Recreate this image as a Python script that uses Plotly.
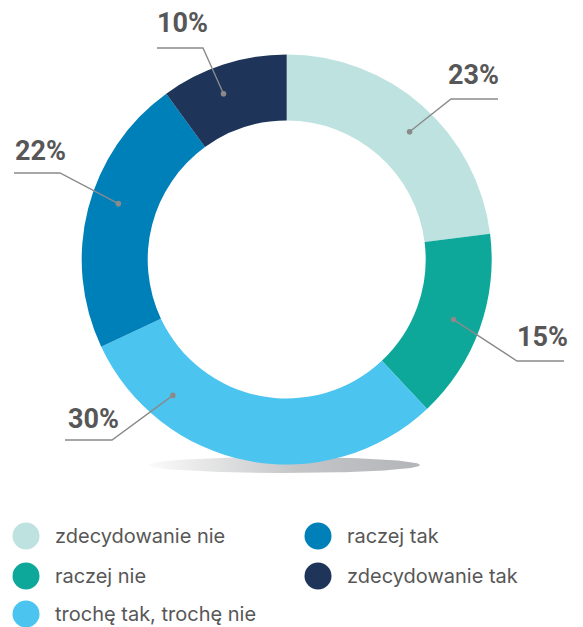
import numpy as np
import plotly.graph_objects as go

# ---- data ----
categories = ["zdecydowanie nie", "raczej nie", "trochę tak, trochę nie", "raczej tak", "zdecydowanie tak"]
shares = [23, 15, 30, 22, 10]
colors = ["#bde2e0", "#0ea89b", "#4bc4f0", "#0080b9", "#1e3459"]

# ---- canvas / donut geometry (pixels) ----
W, H = 583, 627
CX, CY, R = 286.7, 259.5, 205.0
HOLE = 0.678

# leader-line layout per slice: position inside slice (fraction of its arc),
# elbow point, end of horizontal run, label centre
callouts = [
    dict(frac=0.53, elbow=(451, 99), end=498, label=(473, 75)),
    dict(frac=0.50, elbow=(517, 361), end=564, label=(542, 337)),
    dict(frac=0.77, elbow=(112, 440), end=65, label=(93, 419)),
    dict(frac=0.55, elbow=(60, 173), end=14, label=(40, 151)),
    dict(frac=0.42, elbow=(203, 48), end=157, label=(182, 23)),
]
LINE_COLOR = "#8a8a8a"
TEXT_COLOR = "#575757"

fig = go.Figure()

# soft shadow under the ring
t = np.linspace(0, 2 * np.pi, 120)
fig.add_trace(go.Scatter(
    x=284 + 136 * np.cos(t), y=465 + 8 * np.sin(t),
    mode="lines", line=dict(width=0), fill="toself",
    fillgradient=dict(type="horizontal",
                      colorscale=[[0, "#fbfbfb"], [0.55, "#c4c5c7"], [1, "#b4b5b8"]]),
    hoverinfo="skip", showlegend=False,
))

# donut
fig.add_trace(go.Pie(
    labels=categories, values=shares, hole=HOLE, sort=False,
    direction="clockwise", rotation=0,
    marker=dict(colors=colors, line=dict(width=0)),
    textinfo="none", hoverinfo="label+percent", showlegend=False,
    domain=dict(x=[(CX - R) / W, (CX + R) / W], y=[1 - (CY + R) / H, 1 - (CY - R) / H]),
))

# leader lines, dots and percentage labels
total = sum(shares)
start = 0.0
shapes, annotations = [], []
r_mid = R * 0.865
for v, c in zip(shares, callouts):
    span = 360.0 * v / total
    ang = np.radians(start + c["frac"] * span)
    start += span
    px, py = CX + r_mid * np.sin(ang), CY - r_mid * np.cos(ang)
    ex, ey = c["elbow"]
    shapes.append(dict(type="path", xref="x", yref="y", layer="above",
                       path=f"M{px:.1f},{py:.1f} L{ex},{ey} L{c['end']},{ey}",
                       line=dict(color=LINE_COLOR, width=1.4)))
    shapes.append(dict(type="circle", xref="x", yref="y", layer="above",
                       x0=px - 2.8, x1=px + 2.8, y0=py - 2.8, y1=py + 2.8,
                       fillcolor=LINE_COLOR, line=dict(width=0)))
    lx, ly = c["label"]
    annotations.append(dict(x=lx, y=ly, xref="x", yref="y", text=f"<b>{v}%</b>",
                            showarrow=False, xanchor="center", yanchor="middle",
                            font=dict(family="Roboto", size=27, color=TEXT_COLOR)))

# legend: two columns, filled column by column
leg_x_dot, leg_x_text = [26, 318], [53, 345]
leg_y = [536, 576, 614]
lx_list, ly_list = [], []
for i, name in enumerate(categories):
    col, row = divmod(i, 3)
    lx_list.append(leg_x_dot[col])
    ly_list.append(leg_y[row])
    annotations.append(dict(x=leg_x_text[col], y=leg_y[row], xref="x", yref="y",
                            text=name, showarrow=False, xanchor="left", yanchor="middle",
                            font=dict(family="Inter", size=20, color=TEXT_COLOR)))
fig.add_trace(go.Scatter(
    x=lx_list, y=ly_list, mode="markers",
    marker=dict(size=27, color=colors, line=dict(width=0)),
    hoverinfo="skip", showlegend=False,
))

fig.update_layout(
    width=W, height=H, margin=dict(l=0, r=0, t=0, b=0),
    paper_bgcolor="white", plot_bgcolor="rgba(0,0,0,0)",
    xaxis=dict(range=[0, W], visible=False, fixedrange=True, domain=[0, 1]),
    yaxis=dict(range=[H, 0], visible=False, fixedrange=True, domain=[0, 1]),
    shapes=shapes, annotations=annotations, showlegend=False,
)

fig.write_html("out.html")
